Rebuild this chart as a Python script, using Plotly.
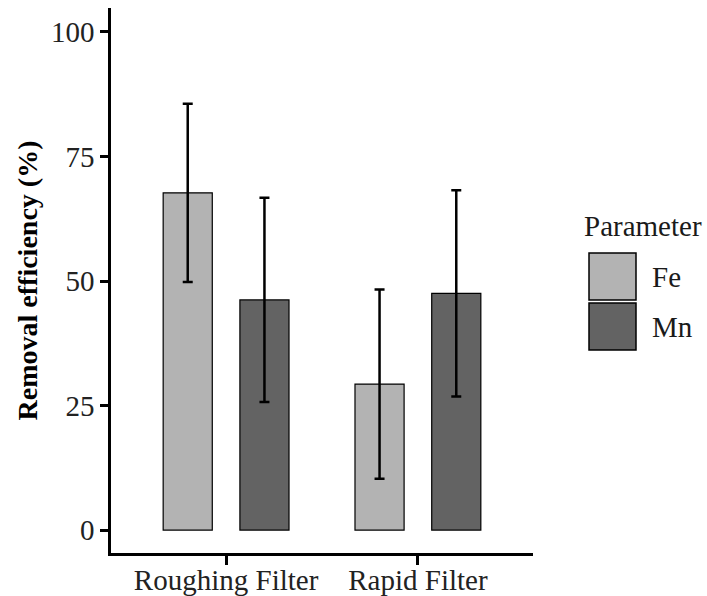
import plotly.graph_objects as go

categories = ["Roughing Filter", "Rapid Filter"]
fe_mean = [67.7, 29.3]
fe_sd = [17.9, 19.0]
mn_mean = [46.2, 47.5]
mn_sd = [20.5, 20.7]
y_ticks = [0, 25, 50, 75, 100]

FONT = "Liberation Serif"
FE_COLOR = "#b3b3b3"
MN_COLOR = "#636363"
FS = 29

fig = go.Figure()
for name, mean, sd, col in [("Fe", fe_mean, fe_sd, FE_COLOR), ("Mn", mn_mean, mn_sd, MN_COLOR)]:
    fig.add_trace(go.Bar(
        x=categories, y=mean, name=name,
        marker=dict(color=col, line=dict(color="black", width=1.2)),
        error_y=dict(type="data", array=sd, visible=True, color="black", thickness=2.5, width=5),
        showlegend=False,
    ))

# plot area in pixels: x 111..533, y 8..553
L, R, T, B = 111, 533, 8, 553
W, H = 707, 596
pw, ph = R - L, B - T

def px(x):
    return (x - L) / pw

def py(y):
    return (B - y) / ph

shapes = []
annotations = []
annotations.append(dict(text="Parameter", x=px(582), y=py(226), xref="paper", yref="paper",
                        xanchor="left", yanchor="middle", showarrow=False,
                        font=dict(family=FONT, size=FS, color="#1a1a1a")))
for (name, col, y0, y1) in [("Fe", FE_COLOR, 253, 300), ("Mn", MN_COLOR, 303, 350)]:
    shapes.append(dict(type="rect", xref="paper", yref="paper",
                       x0=px(589), x1=px(636), y0=py(y1), y1=py(y0),
                       fillcolor=col, line=dict(color="black", width=1.5)))
    annotations.append(dict(text=name, x=px(650), y=py((y0 + y1) / 2), xref="paper", yref="paper",
                            xanchor="left", yanchor="middle", showarrow=False,
                            font=dict(family=FONT, size=FS, color="#1a1a1a")))

fig.update_layout(
    width=W, height=H,
    margin=dict(l=L, r=W - R, t=T, b=H - B, pad=0, autoexpand=False),
    plot_bgcolor="white", paper_bgcolor="white",
    barmode="group", bargap=0.2, bargroupgap=0.36,
    font=dict(family=FONT, size=FS, color="black"),
    shapes=shapes, annotations=annotations,
    xaxis=dict(range=[-0.6, 1.6], showline=True, linecolor="black", linewidth=2.5,
               ticks="outside", ticklen=9, tickwidth=2.5, tickcolor="black", automargin=False,
               ticklabelstandoff=-10,
               tickfont=dict(family=FONT, size=FS, color="#222"), showgrid=False, zeroline=False),
    yaxis=dict(range=[-4.6, 104.8], showline=True, linecolor="black", linewidth=2.5,
               tickvals=y_ticks, ticks="outside", ticklen=8, tickwidth=2.5, tickcolor="black",
               automargin=False,
               tickfont=dict(family=FONT, size=FS, color="#222"), showgrid=False, zeroline=False,
               title=dict(text="<b>Removal efficiency (%)</b>", font=dict(family=FONT, size=28, color="black"),
                          standoff=6)),
)

fig.write_html("out.html")
